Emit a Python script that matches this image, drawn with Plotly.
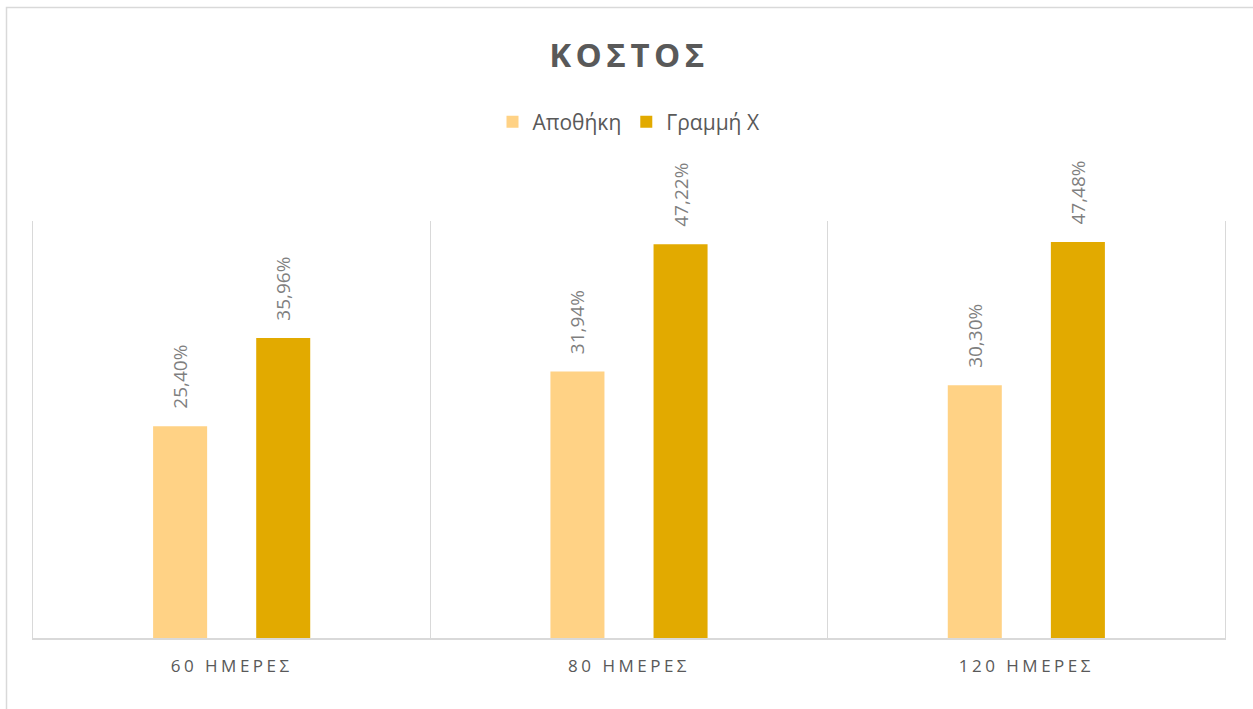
import plotly.graph_objects as go

categories = ["60 ΗΜΕΡΕΣ", "80 ΗΜΕΡΕΣ", "120 ΗΜΕΡΕΣ"]
apothiki = [0.2540, 0.3194, 0.3030]
grammi_x = [0.3596, 0.4722, 0.4748]
series_names = ["Αποθήκη", "Γραμμή Χ"]
title_text = "ΚΟΣΤΟΣ"

W, H = 1253, 709
ml, mr, mt, mb = 33, 28, 221, 71
FONT = "Open Sans"
LINE = "#D9D9D9"

def spaced(s, px):
    return f'<span style="letter-spacing:{px}px">{s}</span>'

fig = go.Figure()
for name, vals, col in [(series_names[0], apothiki, "#FFD285"), (series_names[1], grammi_x, "#E2AA00")]:
    fig.add_trace(go.Bar(
        name=name, x=categories, y=vals, marker=dict(color=col, line=dict(width=0)),
        texttemplate="\u2002\u00a0%{y:.2%}", textposition="outside", textangle=-90,
        constraintext="none",
        textfont=dict(family=FONT, size=19, color="#7F7F7F"), cliponaxis=False,
    ))

pw, ph = W - ml - mr, H - mt - mb
fig.update_layout(
    width=W, height=H, margin=dict(l=ml, r=mr, t=mt, b=mb),
    paper_bgcolor="white", plot_bgcolor="white", separators=",.",
    barmode="group", bargap=0.481, bargroupgap=0.476,
    title=dict(text=spaced(title_text, 4.5), x=(ml + pw / 2) / W, xanchor="center",
               y=1 - 55 / H, yanchor="middle", yref="container",
               font=dict(family=FONT, size=33, color="#595959", weight="bold")),
    legend=dict(orientation="h", x=0.5, xanchor="center", y=1 + (mt - 122) / ph, yanchor="middle",
                font=dict(family=FONT, size=21, color="#595959"), itemclick=False),
    showlegend=True,
)
fig.update_xaxes(type="category", tickson="boundaries", showgrid=True, gridcolor=LINE, gridwidth=1.4,
                 showline=True, linecolor=LINE, linewidth=1.5, ticks="", ticklabelstandoff=12,
                 tickfont=dict(family=FONT, size=17, color="#595959"),
                 tickvals=categories, ticktext=[spaced(c, 3.5) for c in categories])
fig.update_yaxes(range=[0, 0.5], visible=True, showticklabels=False, showgrid=False, zeroline=False,
                 ticks="", showline=True, mirror=True, linecolor=LINE, linewidth=1.4)

# outer chart border
fig.add_shape(type="rect", xref="paper", yref="paper",
              x0=(6.5 - ml) / pw, x1=(W + 20 - ml) / pw,
              y0=-(H + 20 - (H - mb)) / ph, y1=(H - mb - 7.5) / ph,
              line=dict(color=LINE, width=1.5), fillcolor="rgba(0,0,0,0)", layer="below")

fig.write_html("out.html", config={"displayModeBar": False},
               post_script="document.body.style.margin='0';")
